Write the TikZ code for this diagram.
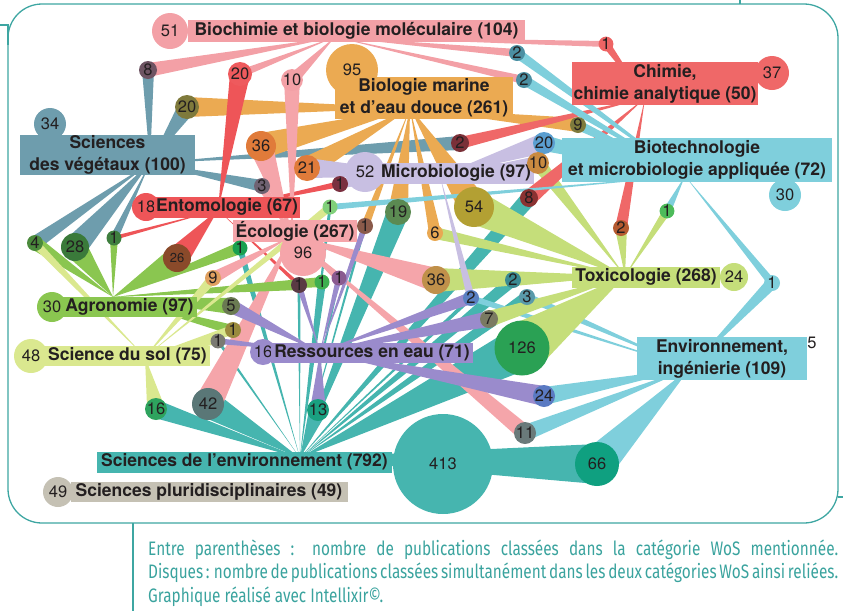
\documentclass[tikz,border=0pt]{standalone}
\usepackage{fontspec}
\setmainfont{TeX Gyre Heros}
\newfontfamily\capfont{Fira Sans}
\usetikzlibrary{calc}
\pgfdeclarelayer{edges}
\pgfsetlayers{edges,main}
\definecolor{cBio}{HTML}{F3A0A6}
\definecolor{cMar}{HTML}{EBAA52}
\definecolor{cChi}{HTML}{EF6868}
\definecolor{cVeg}{HTML}{6E9DAD}
\definecolor{cBiot}{HTML}{7FCFDC}
\definecolor{cMic}{HTML}{C8BFE2}
\definecolor{cEnt}{HTML}{EE5558}
\definecolor{cEco}{HTML}{F5A5AA}
\definecolor{cTox}{HTML}{C5DE7A}
\definecolor{cAgr}{HTML}{8AC650}
\definecolor{cSol}{HTML}{DAE88F}
\definecolor{cRes}{HTML}{9A8BCC}
\definecolor{cSenv}{HTML}{46B5AF}
\definecolor{cPlu}{HTML}{C5C1B4}
\definecolor{txt}{HTML}{231F20}
\definecolor{cFrm}{HTML}{3EA6A2}
\definecolor{cCap}{HTML}{3AA39E}
\newlength\capw
\tikzset{
  lab/.style={rectangle, inner sep=0pt, text=txt, align=center,
    font=\bfseries\fontsize{17.5}{22}\selectfont},
  dsc/.style={circle, inner sep=0pt, text=txt, font=\fontsize{16.5}{16.5}\selectfont},
  frm/.style={draw=cFrm, line width=1.3pt},
  captxt/.style={anchor=base west, inner sep=0pt, text=cCap, font=\capfont\fontsize{19.5}{23}\selectfont}
}
\newcommand\dk[6]{\definecolor{col#1}{HTML}{#5}\node[dsc,fill=col#1,minimum size=#4pt] (#1) at (#2,#3) {#6};}
\newcommand\tightsp{\spaceskip=0.18em plus 0.05em\relax}
\begin{document}
\settowidth\capw{\capfont\fontsize{19.5}{23}\selectfont\tightsp Disques : nombre de publications classées simultanément dans les deux catégories WoS ainsi reliées.}
\pgfmathsetmacro\capsx{690/\capw}
\begin{tikzpicture}[x=1pt,y=-1pt]
\useasboundingbox (0,0) rectangle (843,611);
% frame
\draw[frm, rounded corners=34pt] (8,4) rectangle (838,523);
\draw[frm] (0,25) -- (8,25) -- (8,45);
\draw[frm] (740,0) -- (740,4);
\draw[frm] (133,523) -- (133,611);
\draw[frm] (838,497) -- (843,497);

% hubs
\coordinate (hBch) at (335,37);
\coordinate (hMar) at (410,108);
\coordinate (hChi) at (645,98);
\coordinate (hVeg) at (150,163);
\coordinate (hBiot) at (685,176);
\coordinate (hMic) at (440,176);
\coordinate (hEnt) at (218,210);
\coordinate (hEco) at (292,236);
\coordinate (hTox) at (625,276);
\coordinate (hAgr) at (113,297);
\coordinate (hSol) at (145,357);
\coordinate (hRes) at (320,352);
\coordinate (hEnv) at (690,368);
\coordinate (hSenv) at (300,458);

% self discs
\node[dsc,fill=cBio,minimum size=36pt] (d51) at (170,31) {51};
\node[dsc,fill=cMar,minimum size=52pt] (d95) at (352,70) {95};
\node[dsc,fill=cChi,minimum size=34pt] (d37) at (772,73) {37};
\node[dsc,fill=cVeg,minimum size=32pt] (d34) at (50,124) {34};
\node[dsc,fill=cMic,minimum size=40pt] (d52) at (365,172) {52};
\node[dsc,fill=cEnt,minimum size=28pt] (d18) at (146,207) {18};
\node[dsc,fill=cBiot,minimum size=32pt] (d30a) at (785,195) {30};
\node[dsc,fill=cEco,minimum size=46pt] (d96) at (303,253) {96};
\node[dsc,fill=cTox,minimum size=28pt] (d24a) at (734,277) {24};
\node[dsc,fill=cAgr,minimum size=30pt] (d30b) at (52,307) {30};
\node[dsc,fill=cSol,minimum size=34pt] (d48) at (31,356) {48};
\node[dsc,fill=cRes,minimum size=26pt] (d16a) at (263,352) {16};
\node[dsc,minimum size=18pt] (d5b) at (812,343) {5};
\node[dsc,fill=cSenv,minimum size=100pt] (d413) at (443,464) {413};
\node[dsc,fill=cPlu,minimum size=30pt] (d49) at (58,492) {49};

% labels
\node[lab,fill=cBio,minimum width=337pt,minimum height=22pt] (bchL) at (356.5,31) {Biochimie et biologie moléculaire (104)};
\node[lab,fill=cMar,minimum width=178pt,minimum height=42pt] (marL) at (424,98) {Biologie marine\\et d’eau douce (261)};
\node[lab,fill=cChi,minimum width=186pt,minimum height=43pt] (chiL) at (665,83.5) {Chimie,\\chimie analytique (50)};
\node[lab,fill=cVeg,minimum width=175pt,minimum height=40pt] (vegL) at (107.5,155) {Sciences\\des végétaux (100)};
\node[lab,fill=cBiot,minimum width=270pt,minimum height=44pt] (biotL) at (697,160) {Biotechnologie\\et microbiologie appliquée (72)};
\node[lab,fill=cMic,minimum width=156pt,minimum height=21pt] (micL) at (456,173) {Microbiologie (97)};
\node[lab,fill=cEnt,minimum width=146pt,minimum height=21pt] (entL) at (227,207) {Entomologie (67)};
\node[lab,fill=cEco,minimum width=124pt,minimum height=22pt] (ecoL) at (295,231) {Écologie (267)};
\node[lab,fill=cTox,minimum width=148pt,minimum height=21pt] (toxL) at (646,277) {Toxicologie (268)};
\node[lab,fill=cAgr,minimum width=135pt,minimum height=20pt] (agrL) at (129.5,306.5) {Agronomie (97)};
\node[lab,fill=cSol,minimum width=165pt,minimum height=20pt] (solL) at (127.5,356) {Science du sol (75)};
\node[lab,fill=cRes,minimum width=202pt,minimum height=20pt] (resL) at (372,352.5) {Ressources en eau (71)};
\node[lab,fill=cBiot,minimum width=170pt,minimum height=43pt] (envL) at (722,358.5) {Environnement,\\ingénierie (109)};
\node[lab,fill=cSenv,minimum width=295pt,minimum height=21pt] (senvL) at (244.5,462) {Sciences de l’environnement (792)};
\node[lab,fill=cPlu,minimum width=277pt,minimum height=20pt] (pluL) at (209,492) {Sciences pluridisciplinaires (49)};

% co-occurrence discs
\dk{d8}{148}{70}{18}{6E5463}{8}
\dk{d20a}{240}{74}{24}{EE5A5D}{20}
\dk{d10a}{292}{80}{20}{F3A0A6}{10}
\dk{d20b}{187}{107}{24}{7F7A3C}{20}
\dk{d2a}{517}{53}{16}{4B8FA2}{2}
\dk{d2b}{524}{80}{16}{4B8FA2}{2}
\dk{d1a}{606}{44}{14}{EE6464}{1}
\dk{d36a}{261}{146}{30}{E07B3A}{36}
\dk{d21}{307}{168}{26}{E07B3A}{21}
\dk{d3a}{262}{186}{16}{6F6272}{3}
\dk{d2c}{460}{143}{18}{7A3038}{2}
\dk{d9a}{578}{125}{16}{7E7A3C}{9}
\dk{d20c}{544}{143}{22}{5B9ED0}{20}
\dk{d10b}{538}{163}{18}{C98A40}{10}
\dk{d1b}{340}{184}{16}{7A3040}{1}
\dk{d8b}{529}{198}{18}{8B3232}{8}
\dk{d1c}{330}{207}{15}{80D07A}{1}
\dk{d19}{398}{212}{26}{5B8A52}{19}
\dk{d54}{474}{207}{40}{B3A033}{54}
\dk{d6}{435}{233}{16}{E9A852}{6}
\dk{d1d}{365}{226}{16}{8A5A4A}{1}
\dk{d2d}{621}{228}{16}{B55A30}{2}
\dk{d1e}{667}{211}{14}{4DBB5A}{1}
\dk{d4}{35}{243}{16}{4B8A3C}{4}
\dk{d28}{75}{247}{28}{3A7A3A}{28}
\dk{d1f}{114}{238}{15}{3E7E3E}{1}
\node[dsc,fill={rgb,255:red,138;green,74;blue,42},minimum size=28pt,font=\fontsize{13}{13}\selectfont] (d26) at (177,258) {26};
\dk{d1g}{240}{248}{15}{1AA050}{1}
\dk{d9b}{213}{278}{16}{E0A060}{9}
\dk{d1h}{299}{285}{16}{5A3A44}{1}
\dk{d1i}{322}{282}{15}{3EAF50}{1}
\dk{d1j}{339}{278}{15}{8A5A90}{1}
\dk{d36b}{436}{280}{28}{C0904A}{36}
\dk{d2e}{513}{280}{16}{3A8A92}{2}
\dk{d3b}{527}{297}{16}{5A9AAA}{3}
\dk{d1k}{772}{283}{16}{7FCFDC}{1}
\dk{d5a}{231}{306}{18}{6A7A52}{5}
\dk{d2f}{471}{298}{16}{5A80C2}{2}
\dk{d7}{489}{319}{18}{7A7A62}{7}
\dk{d1l}{233}{330}{16}{9A8A3E}{1}
\dk{d1m}{218}{341}{14}{7A7A72}{1}
\dk{d126}{522}{348}{55}{2AA154}{126}
\dk{d16b}{156}{409}{22}{2EA35E}{16}
\dk{d42}{208}{404}{32}{5A7777}{42}
\dk{d13}{318}{410}{22}{1AA080}{13}
\dk{d24b}{544}{396}{22}{5A7AC2}{24}
\dk{d11}{525}{433}{22}{6A7A7A}{11}
\dk{d66}{597}{464}{44}{0FA080}{66}

% tapered connectors
\begin{pgfonlayer}{edges}
\foreach \h/\d/\w/\c in {
 hSenv/d66/20/cSenv, hSenv/d126/22/cSenv, hSenv/d42/14/cSenv, hSenv/d16b/9/cSenv,
 hSenv/d13/9/cSenv, hSenv/d19/11/cSenv, hSenv/d8b/8/cSenv, hSenv/d2e/6/cSenv,
 hSenv/d3b/6/cSenv, hSenv/d1g/3/cSenv, hSenv/d1i/4/cSenv,
 hSenv/d1h/1.5/cSenv, hSenv/d1j/1.5/cSenv, hSenv/d1c/1.5/cSenv, hSenv/d1d/1.5/cSenv,
 hSenv/d2f/2/cSenv, hSenv/d1m/1.5/cSenv,
 hEnv/d66/18/cBiot, hEnv/d11/8/cBiot, hEnv/d24b/9/cBiot, hEnv/d3b/4/cBiot,
 hEnv/d1k/6/cBiot, hEnv/d2f/3/cBiot,
 hTox/d126/26/cTox, hTox/d54/17/cTox, hTox/d36b/12/cTox, hTox/d7/8/cTox,
 hTox/d6/6/cTox, hTox/d10b/7/cTox, hTox/d2d/6/cTox, hTox/d1e/4/cTox, hTox/d2e/6/cTox,
 hBch/d8/7/cBio, hBch/d20a/4/cBio, hBch/d10a/6/cBio, hBch/d2a/4/cBio,
 hBch/d2b/4/cBio, hBch/d1a/3/cBio,
 hVeg/d8/6/cVeg, hVeg/d20b/9/cVeg, hVeg/d3a/6/cVeg, hVeg/d2c/7/cVeg,
 hVeg/d4/7/cVeg, hVeg/d28/12/cVeg, hVeg/d1f/4/cVeg,
 hMar/d20b/10/cMar, hMar/d36a/13/cMar, hMar/d21/11/cMar, hMar/d9a/7/cMar,
 hMar/d19/10/cMar, hMar/d54/15/cMar, hMar/d6/6/cMar, hMar/d1d/4/cMar,
 hChi/d1a/4/cChi, hChi/d2c/6/cChi, hChi/d8b/8/cChi, hChi/d2d/6/cChi,
 hBiot/d2a/5/cBiot, hBiot/d2b/5/cBiot, hBiot/d9a/5/cBiot, hBiot/d20c/8/cBiot,
 hBiot/d1c/3/cBiot, hBiot/d1e/4/cBiot, hBiot/d1k/4/cBiot,
 hMic/d21/10/cMic, hMic/d20c/10/cMic, hMic/d10b/7/cMic, hMic/d1b/4/cMic, hMic/d2f/4/cMic,
 hEnt/d20a/10/cEnt, hEnt/d1b/3/cEnt, hEnt/d1f/2/cEnt, hEnt/d26/12/cEnt, hEnt/d1h/2/cEnt,
 hEco/d10a/8/cEco, hEco/d36a/12/cEco, hEco/d3a/5/cEco, hEco/d9b/6/cEco,
 hEco/d1j/4/cEco, hEco/d36b/12/cEco, hEco/d42/14/cEco, hEco/d11/8/cEco,
 hAgr/d4/7/cAgr, hAgr/d28/12/cAgr, hAgr/d1f/4/cAgr, hAgr/d26/12/cAgr,
 hAgr/d1g/6/cAgr, hAgr/d1h/5/cAgr, hAgr/d1i/5/cAgr, hAgr/d5a/8/cAgr, hAgr/d1l/5/cAgr,
 hSol/d1c/4/cSol, hSol/d4/4/cSol, hSol/d9b/5/cSol, hSol/d1l/5/cSol,
 hSol/d1m/3/cSol, hSol/d16b/9/cSol,
 hRes/d1d/3/cRes, hRes/d1h/3/cRes, hRes/d1j/3/cRes, hRes/d5a/7/cRes,
 hRes/d2f/6/cRes, hRes/d7/8/cRes, hRes/d1m/3/cRes, hRes/d13/8/cRes, hRes/d24b/10/cRes}
 { \fill[\c] (\h.center) -- ($(\d.center)!\w pt!90:(\h.center)$) -- ($(\d.center)!\w pt!-90:(\h.center)$) -- cycle; }
\end{pgfonlayer}

% caption
\node[captxt] (cap1) at (148,555) {\resizebox{690pt}{\height}{\makebox[\capw][s]{Entre parenthèses : nombre de publications classées dans la catégorie WoS mentionnée.}}};
\node[captxt] (cap2) at (148,578) {\resizebox{690pt}{\height}{\tightsp Disques : nombre de publications classées simultanément dans les deux catégories WoS ainsi reliées.}};
\node[captxt] (cap3) at (148,602) {\scalebox{\capsx}[1]{Graphique réalisé avec Intellixir©.}};
\end{tikzpicture}
\end{document}
